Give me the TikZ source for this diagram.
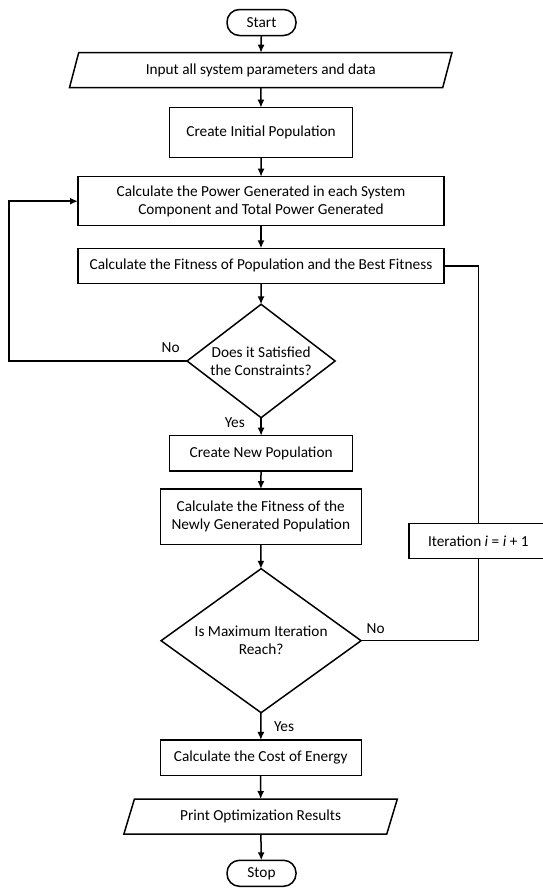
\documentclass[tikz,border=0pt]{standalone}
\usepackage{fontspec}
\setmainfont{Carlito}
\usetikzlibrary{shapes.geometric,arrows.meta}
\begin{document}
\begin{tikzpicture}[x=1pt,y=-1pt,
  font=\fontsize{15.3}{18}\selectfont,
  every node/.style={inner sep=0pt, outer sep=0pt, align=center},
  box/.style={draw, line width=1.5pt, rectangle},
  term/.style={draw, line width=1.5pt, rectangle, rounded corners=12.5pt, minimum width=69pt, minimum height=26pt},
  io/.style={draw, line width=1.5pt, trapezium, trapezium stretches=true, minimum height=35pt},
  dec/.style={draw, line width=1.5pt, diamond},
  arr/.style={line width=1.5pt, -{Latex[length=8pt,width=7pt]}},
  ln/.style={line width=1.5pt},
  lab/.style={font=\fontsize{15.3}{18}\selectfont}
]
\useasboundingbox (0,0) rectangle (543,889);

\node[term] (start) at (261.5,22.5) {Start};
\node[io, trapezium left angle=66, trapezium right angle=114, minimum width=383pt] (input) at (260.7,70.2) {Input all system parameters and data};
\node[box, minimum width=183pt, minimum height=50pt] (init) at (261.1,132.7) {Create Initial Population};
\node[box, minimum width=366pt, minimum height=49pt] (power) at (261,201.2) {Calculate the Power Generated in each System\\Component and Total Power Generated};
\node[box, minimum width=366pt, minimum height=35pt] (fit) at (261,265.8) {Calculate the Fitness of Population and the Best Fitness};
\node[dec, minimum width=148pt, minimum height=113.4pt] (d1) at (261.1,361) {};
\node at (d1) {Does it Satisfied\\the Constraints?};
\node[box, minimum width=183pt, minimum height=35.3pt] (newpop) at (261.1,453.3) {Create New Population};
\node[box, minimum width=201pt, minimum height=55.3pt] (fitnew) at (260.8,516.7) {Calculate the Fitness of the\\Newly Generated Population};
\node[dec, minimum width=200pt, minimum height=144pt] (d2) at (261.1,640.7) {};
\node at (d2) {Is Maximum Iteration\\Reach?};
\node[box, minimum width=138.6pt, minimum height=35.4pt] (iter) at (478.3,541) {Iteration \textit{i} = \textit{i} + 1};
\node[box, minimum width=201pt, minimum height=35.7pt] (cost) at (260.8,757.8) {Calculate the Cost of Energy};
\node[io, trapezium left angle=62.8, trapezium right angle=117.2, minimum width=274pt] (print) at (260.6,816.5) {Print Optimization Results};
\node[term] (stop) at (261.5,873.3) {Stop};

\coordinate (fb) at (9,300);

\draw[arr] (start) -- (input);
\draw[arr] (input) -- (init);
\draw[arr] (init) -- (power);
\draw[arr] (power) -- (fit);
\draw[arr] (fit) -- (d1);
\draw[arr] (d1) -- (newpop);
\draw[arr] (newpop) -- (fitnew);
\draw[arr] (fitnew) -- (d2);
\draw[arr] (d2) -- (cost);
\draw[arr] (cost) -- (print);
\draw[arr] (print) -- (stop);
\draw[arr] (d1.west) -| (fb |- power.west) -- (power.west);
\draw[ln] (d2.east) -| (iter.south);
\draw[ln] (iter.north) |- (fit.east);

\node[lab] (no1) at (170.7,347.7) {No};
\node[lab] (yes1) at (234.8,422.3) {Yes};
\node[lab] (no2) at (375.7,628.3) {No};
\node[lab] (yes2) at (284,726.7) {Yes};
\end{tikzpicture}
\end{document}
